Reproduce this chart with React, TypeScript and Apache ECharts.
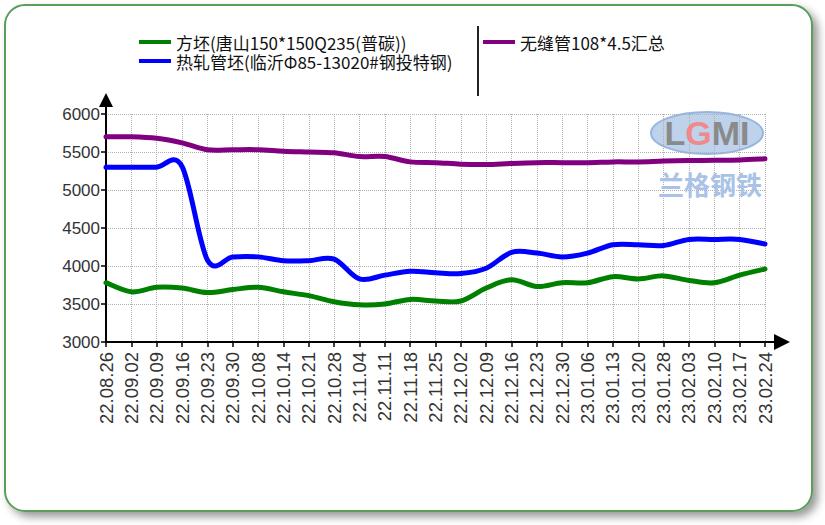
import React, { useEffect, useRef } from "react";
import * as echarts from "echarts";

const categories = [
  "22.08.26", "22.09.02", "22.09.09", "22.09.16", "22.09.23", "22.09.30", "22.10.08",
  "22.10.14", "22.10.21", "22.10.28", "22.11.04", "22.11.11", "22.11.18", "22.11.25",
  "22.12.02", "22.12.09", "22.12.16", "22.12.23", "22.12.30", "23.01.06", "23.01.13",
  "23.01.20", "23.01.28", "23.02.03", "23.02.10", "23.02.17", "23.02.24",
];

const nameGreen = "方坯(唐山150*150Q235(普碳))";
const nameBlue = "热轧管坯(临沂Φ85-13020#钢投特钢)";
const namePurple = "无缝管108*4.5汇总";

const greenValues = [
  3780, 3660, 3720, 3710, 3650, 3690, 3720, 3660, 3610, 3530, 3490, 3500, 3560, 3540,
  3540, 3710, 3820, 3730, 3780, 3780, 3860, 3830, 3870, 3810, 3780, 3880, 3960,
];
const blueValues = [
  5300, 5300, 5300, 5310, 4080, 4120, 4120, 4070, 4070, 4090, 3830, 3880, 3930, 3910,
  3900, 3970, 4180, 4170, 4120, 4170, 4280, 4280, 4270, 4350, 4350, 4350, 4290,
];
const purpleValues = [
  5700, 5700, 5680, 5620, 5530, 5530, 5530, 5510, 5500, 5490, 5440, 5440, 5370, 5360,
  5340, 5335, 5350, 5360, 5360, 5360, 5370, 5370, 5380, 5387, 5390, 5395, 5410,
];

const yTicks = { min: 3000, max: 6000, interval: 500 };

// cardinal (Catmull-Rom) spline through the pixel points given by the axes
function splinePath(pts: number[][]): string {
  if (!pts.length) return "";
  let d = `M${pts[0][0]},${pts[0][1]}`;
  const n = pts.length;
  for (let i = 0; i < n - 1; i++) {
    const p0 = pts[Math.max(i - 1, 0)];
    const p1 = pts[i];
    const p2 = pts[i + 1];
    const p3 = pts[Math.min(i + 2, n - 1)];
    const c1x = p1[0] + (p2[0] - p0[0]) / 6;
    const c1y = p1[1] + (p2[1] - p0[1]) / 6;
    const c2x = p2[0] - (p3[0] - p1[0]) / 6;
    const c2y = p2[1] - (p3[1] - p1[1]) / 6;
    d += ` C${c1x},${c1y} ${c2x},${c2y} ${p2[0]},${p2[1]}`;
  }
  return d;
}

function curveSeries(name: string, values: number[], color: string) {
  return {
    name,
    type: "custom",
    coordinateSystem: "cartesian2d",
    data: values.map((v, i) => [i, v]),
    encode: { x: 0, y: 1 },
    itemStyle: { color },
    silent: true,
    renderItem: (params: any, api: any) => {
      if (params.dataIndex !== 0) return null;
      const pts = values.map((v, i) => api.coord([i, v]));
      return {
        type: "path",
        shape: { pathData: splinePath(pts) },
        style: { stroke: color, lineWidth: 5, fill: "none", lineJoin: "round", lineCap: "round" },
      };
    },
  };
}

export default function App() {
  const ref = useRef<HTMLDivElement>(null);
  useEffect(() => {
    if (!ref.current) return;
    const chart = echarts.init(ref.current, undefined, { renderer: "svg" });
    const gridLeft = 106;
    const gridTop = 114;
    const gridRight = 765;
    const gridBottom = 342;
    const textFont = "Noto Sans CJK SC";
    const legendText = { fontSize: 17, lineHeight: 18, fontFamily: textFont, color: "#111" };
    const legendBase = {
      orient: "vertical",
      padding: 0,
      itemWidth: 32,
      itemHeight: 4,
      itemGap: 1,
      icon: "rect",
      textStyle: legendText,
    };
    chart.setOption({
      animation: false,
      backgroundColor: "transparent",
      graphic: [
        {
          type: "rect",
          z: -10,
          silent: true,
          shape: { x: 5, y: 5, width: 807, height: 506, r: 20 },
          style: {
            fill: "#fff",
            stroke: "#5a9e5a",
            lineWidth: 2,
            shadowBlur: 8,
            shadowOffsetX: 5,
            shadowOffsetY: 5,
            shadowColor: "rgba(0,0,0,0.4)",
          },
        },
        {
          type: "line",
          silent: true,
          shape: { x1: 478, y1: 26, x2: 478, y2: 96 },
          style: { stroke: "#222", lineWidth: 2 },
        },
        // watermark
        {
          type: "ellipse",
          silent: true,
          z: 0,
          shape: { cx: 707, cy: 133, rx: 56, ry: 21 },
          style: { fill: "#b7cdea", stroke: "#8fb0dc", lineWidth: 2, opacity: 0.9 },
        },
        {
          type: "text",
          silent: true,
          z: 1,
          x: 707,
          y: 133,
          style: {
            text: "{g|L}{r|G}{g|MI}",
            align: "center",
            verticalAlign: "middle",
            rich: {
              g: { fontSize: 34, fontWeight: "bold", fontFamily: "Liberation Sans", fill: "#8a8a8a", color: "#8a8a8a" },
              r: { fontSize: 34, fontWeight: "bold", fontFamily: "Liberation Sans", fill: "#f08a8a", color: "#f08a8a" },
            },
          },
        },
        {
          type: "text",
          silent: true,
          z: 1,
          x: 710,
          y: 183,
          style: {
            text: "兰格钢铁",
            align: "center",
            verticalAlign: "middle",
            fontSize: 26,
            fontWeight: "bold",
            fontFamily: textFont,
            fill: "#a9c2e6",
          },
        },
        // axis arrows
        {
          type: "line",
          silent: true,
          shape: { x1: gridLeft, y1: gridTop, x2: gridLeft, y2: 104 },
          style: { stroke: "#000", lineWidth: 2 },
        },
        {
          type: "polygon",
          silent: true,
          shape: { points: [[gridLeft, 93], [gridLeft - 7, 107], [gridLeft + 7, 107]] },
          style: { fill: "#000" },
        },
        {
          type: "line",
          silent: true,
          shape: { x1: gridRight, y1: gridBottom, x2: 776, y2: gridBottom },
          style: { stroke: "#000", lineWidth: 2 },
        },
        {
          type: "polygon",
          silent: true,
          shape: { points: [[790, gridBottom], [774, gridBottom - 8], [774, gridBottom + 8]] },
          style: { fill: "#000" },
        },
      ],
      legend: [
        { ...legendBase, data: [nameGreen], left: 139, top: 33 },
        { ...legendBase, data: [nameBlue], left: 139, top: 52 },
        { ...legendBase, data: [namePurple], left: 483, top: 33 },
      ],
      grid: {
        left: gridLeft,
        top: gridTop,
        right: 825 - gridRight,
        bottom: 525 - gridBottom,
        containLabel: false,
      },
      xAxis: {
        type: "category",
        data: categories,
        boundaryGap: false,
        axisLine: { lineStyle: { color: "#000", width: 2 } },
        axisTick: { show: true, length: 5, interval: 0, lineStyle: { color: "#000", width: 1.5 } },
        axisLabel: {
          interval: 0,
          rotate: 90,
          margin: 10,
          fontSize: 18.5,
          fontFamily: "Liberation Sans",
          color: "#333",
        },
        splitLine: {
          show: true,
          interval: 0,
          lineStyle: { color: "#b0b0b0", type: "dotted", width: 1 },
        },
      },
      yAxis: {
        type: "value",
        min: yTicks.min,
        max: yTicks.max,
        interval: yTicks.interval,
        axisLine: { show: true, lineStyle: { color: "#000", width: 2 } },
        axisTick: { show: true, length: 5, lineStyle: { color: "#000", width: 1.5 } },
        axisLabel: {
          margin: 6,
          fontSize: 17,
          fontFamily: "Liberation Sans",
          color: "#333",
          formatter: (v: number) => String(v),
        },
        splitLine: {
          show: true,
          lineStyle: { color: "#b0b0b0", type: "dotted", width: 1 },
        },
      },
      series: [
        curveSeries(nameGreen, greenValues, "#008000"),
        curveSeries(nameBlue, blueValues, "#0000ff"),
        curveSeries(namePurple, purpleValues, "#800080"),
      ],
    });
    return () => chart.dispose();
  }, []);
  return (
    <div
      ref={ref}
      style={{ position: "absolute", left: 0, top: 0, width: 825, height: 525 }}
    />
  );
}
